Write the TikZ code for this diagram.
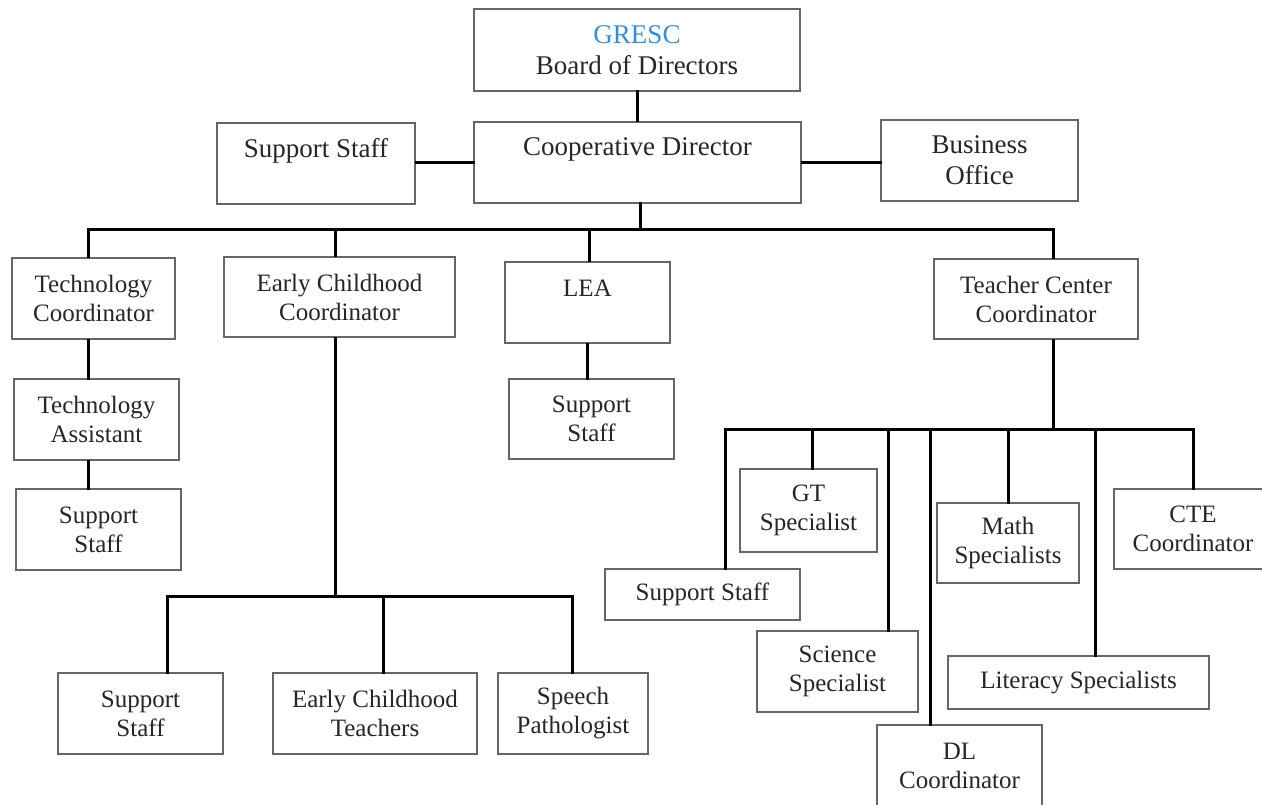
\documentclass[tikz,border=0pt]{standalone}
\usepackage{fontspec}
\setmainfont{Liberation Serif}
\usepackage{tikz}
\usetikzlibrary{positioning}
\definecolor{grescblue}{RGB}{52,142,218}

\begin{document}
\begin{tikzpicture}[
  x=1pt, y=-1pt,
  unitbox/.style = {
    rectangle, draw=black!60, line width=2pt, fill=white,
    align=center, inner sep=0pt, text=black!85,
    font=\fontsize{25}{29}\selectfont
  },
  topbox/.style = {unitbox, font=\fontsize{27}{31}\selectfont},
  wh/.style 2 args = {minimum width=#1pt, minimum height=#2pt},
  link/.style = {line width=3pt, black, line cap=rect},
]
\useasboundingbox (0,0) rectangle (1262,805);

%% ---- Top rows ----
\node[topbox, wh={326}{82}] (board) at (637,50)
  {\textcolor{grescblue}{GRESC}\\Board of Directors};
\node[topbox, wh={327}{81}] (coop) at (637.5,162.5) {Cooperative Director\\~};
\node[topbox, wh={198}{81}] (sup0) at (316,163.5) {Support Staff\\~};
\node[topbox, wh={197}{81}] (office) at (979.5,160.5) {Business\\Office};

%% ---- Coordinators ----
\node[unitbox, wh={163}{81}] (tech) at (93.5,298.5) {Technology\\Coordinator};
\node[unitbox, wh={231}{80}] (ecc) at (339.5,297) {Early Childhood\\Coordinator};
\node[unitbox, wh={165}{81}] (lea) at (587.5,302.5) {LEA\\~};
\node[unitbox, wh={204}{80}] (tcc) at (1036,299) {Teacher Center\\Coordinator};

%% ---- Technology and LEA branches ----
\node[unitbox, wh={165}{81}] (tasst) at (96.5,419.5) {Technology\\Assistant};
\node[unitbox, wh={165}{81}] (tsup) at (98.5,529.5) {Support\\Staff};
\node[unitbox, wh={165}{80}] (lsup) at (591.5,419) {Support\\Staff};

%% ---- Early childhood branch ----
\node[unitbox, wh={165}{81}] (esup) at (140.5,713.5) {Support\\Staff};
\node[unitbox, wh={204}{81}] (ecte) at (375,713.5) {Early Childhood\\Teachers};
\node[unitbox, wh={150}{81}] (spch) at (573,713.5) {Speech\\Pathologist};

%% ---- Teacher center branch ----
\node[unitbox, wh={195}{51}] (csup) at (702.5,594.5) {Support Staff};
\node[unitbox, wh={137}{83}] (gt) at (808.5,510.5) {GT\\Specialist};
\node[unitbox, wh={161}{81}] (sci) at (837.5,671.5) {Science\\Specialist};
\node[unitbox, wh={165}{81}] (dl) at (959.5,765.5) {DL\\Coordinator};
\node[unitbox, wh={142}{80}] (math) at (1008,543) {Math\\Specialists};
\node[unitbox, wh={261}{53}] (lit) at (1078.5,682.5) {Literacy Specialists};
\node[unitbox, wh={158}{80}] (cte) at (1193,529) {CTE\\Coordinator};

%% ---- Links at the top ----
\draw[link] (board.south) -- (board.south |- coop.north);
\draw[link] (coop.west) -- (coop.west -| sup0.east);
\draw[link] (coop.east) -- (coop.east -| office.west);

%% ---- Bus under the director ----
\coordinate (hub) at (640,230);
\draw[link] (coop.south -| hub) -- (hub);
\draw[link] (88,230) -- (1053,230);
\foreach \n/\x in {tech/88, ecc/335, lea/589, tcc/1053} {
  \coordinate (t) at (\x,230);
  \draw[link] (t) -- (t |- \n.north);
}

%% ---- Technology and LEA chains ----
\coordinate (tx) at (88,0);
\draw[link] (tech.south -| tx) -- (tasst.north -| tx);
\draw[link] (tasst.south -| tx) -- (tsup.north -| tx);
\draw[link] (lea.south) -- (lea.south |- lsup.north);

%% ---- Early childhood bus ----
\coordinate (ehub) at (335,596);
\draw[link] (ecc.south -| ehub) -- (ehub);
\draw[link] (167,596) -- (572,596);
\foreach \n/\x in {esup/167, ecte/383, spch/572} {
  \coordinate (t) at (\x,596);
  \draw[link] (t) -- (t |- \n.north);
}

%% ---- Teacher center bus ----
\coordinate (thub) at (1053,429);
\draw[link] (tcc.south -| thub) -- (thub);
\draw[link] (725,429) -- (1193,429);
\foreach \n/\x in {csup/725, gt/812, sci/888, dl/930, math/1008, lit/1095, cte/1193} {
  \coordinate (t) at (\x,429);
  \draw[link] (t) -- (t |- \n.north);
}

\end{tikzpicture}
\end{document}
